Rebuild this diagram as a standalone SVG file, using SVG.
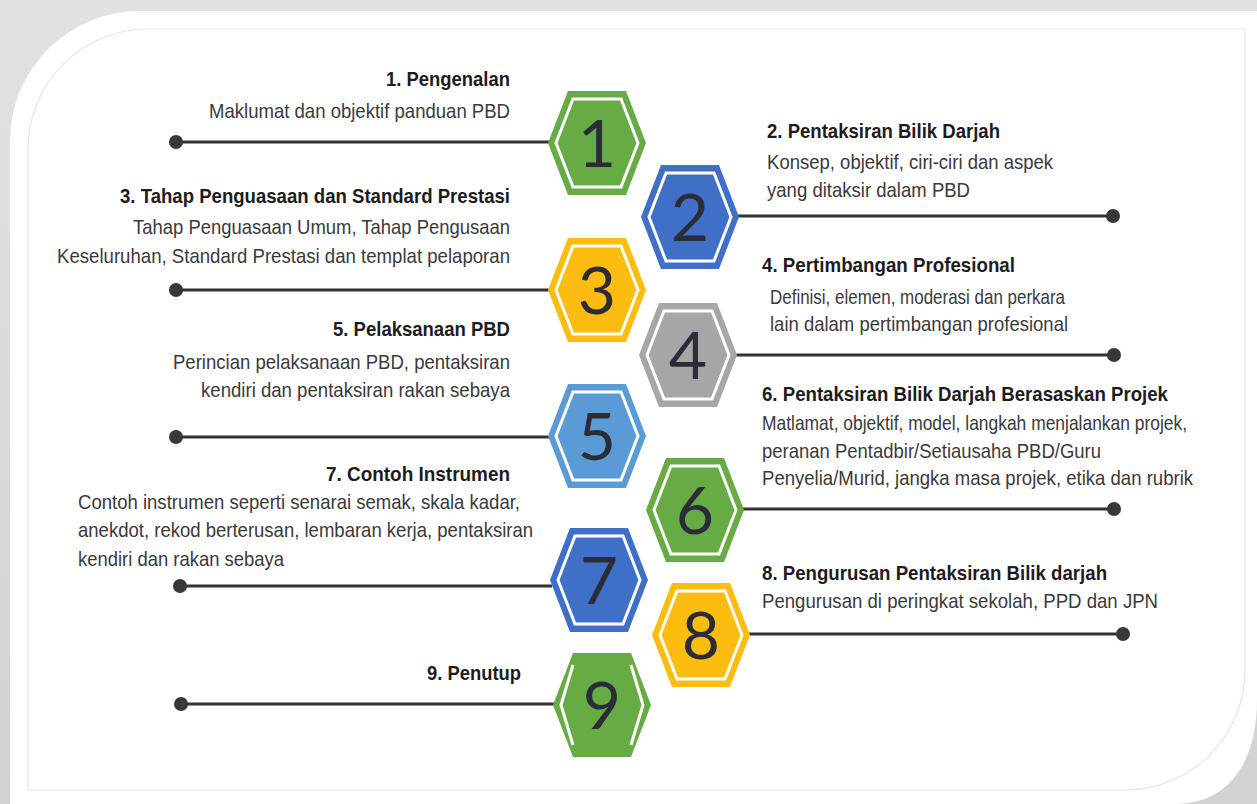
<svg xmlns="http://www.w3.org/2000/svg" width="1257" height="804" viewBox="0 0 1257 804">
<style>
.t{font-family:"Liberation Sans",Arial,sans-serif;font-size:21px;font-weight:bold;fill:#1c1c1c}
.d{font-family:"Liberation Sans",Arial,sans-serif;font-size:21px;fill:#3a3a3a}
.n{font-family:Lato,"Open Sans",sans-serif;font-weight:400;font-size:66px;fill:#2a2d38;text-anchor:middle}
.ln{stroke:#333;stroke-width:3;fill:none}
.dot{fill:#383838}
.in{fill:none;stroke:#fff;stroke-width:3}
</style>
<defs>
<linearGradient id="bg" x1="0" y1="0" x2="0" y2="1">
<stop offset="0" stop-color="#e2e2e2"/><stop offset="1" stop-color="#d2d2d2"/>
</linearGradient>
<polygon id="ho" points="-49,0 -29,-52 29,-52 49,0 29,52 -29,52"/>
<polygon id="hi" points="-41,0 -24,-44 24,-44 41,0 24,44 -24,44"/>
</defs>
<rect x="0" y="0" width="1257" height="804" fill="url(#bg)"/>
<path d="M10,141 A130,130 0 0 1 140,11 L1257,11 L1257,700 C1257,760 1230,804 1175,804 L10,804 Z" fill="#fff"/>
<path d="M28,149 A120,120 0 0 1 148,29 L1245,29 L1245,670 A120,120 0 0 1 1125,790 L28,790 Z" fill="none" stroke="#e6e6e6" stroke-width="1.2"/>

<g id="connectors">
<line class="ln" x1="176" y1="142" x2="550" y2="142"/><circle class="dot" cx="176" cy="142" r="7"/>
<line class="ln" x1="737" y1="216" x2="1113" y2="216"/><circle class="dot" cx="1113" cy="216" r="7"/>
<line class="ln" x1="176" y1="290" x2="550" y2="290"/><circle class="dot" cx="176" cy="290" r="7"/>
<line class="ln" x1="735" y1="355" x2="1114" y2="355"/><circle class="dot" cx="1114" cy="355" r="7"/>
<line class="ln" x1="176" y1="437" x2="550" y2="437"/><circle class="dot" cx="176" cy="437" r="7"/>
<line class="ln" x1="741" y1="509" x2="1114" y2="509"/><circle class="dot" cx="1114" cy="509" r="7"/>
<line class="ln" x1="180" y1="586" x2="552" y2="586"/><circle class="dot" cx="180" cy="586" r="7"/>
<line class="ln" x1="748" y1="634" x2="1123" y2="634"/><circle class="dot" cx="1123" cy="634" r="7"/>
<line class="ln" x1="181" y1="704" x2="555" y2="704"/><circle class="dot" cx="181" cy="704" r="7"/>
</g>

<g id="node1">
<use href="#ho" x="597" y="143" fill="#67ab45"/><use href="#hi" x="597" y="143" class="in"/>
<text class="n" x="597" y="167">1</text>
<text class="t" transform="scale(0.85,1)" x="454.1" y="86" textLength="145.9" lengthAdjust="spacingAndGlyphs">1. Pengenalan</text>
<text class="d" transform="scale(0.85,1)" x="245.9" y="118" textLength="354.1" lengthAdjust="spacingAndGlyphs">Maklumat dan objektif panduan PBD</text>
</g>
<g id="node2">
<use href="#ho" x="690" y="217" fill="#3f6fc6"/><use href="#hi" x="690" y="217" class="in"/>
<text class="n" x="690" y="241">2</text>
<text class="t" transform="scale(0.85,1)" x="902.4" y="138" textLength="274.1" lengthAdjust="spacingAndGlyphs">2. Pentaksiran Bilik Darjah</text>
<text class="d" transform="scale(0.85,1)" x="902.4" y="169" textLength="336.5" lengthAdjust="spacingAndGlyphs">Konsep, objektif, ciri-ciri dan aspek</text>
<text class="d" transform="scale(0.85,1)" x="902.4" y="197" textLength="238.8" lengthAdjust="spacingAndGlyphs">yang ditaksir dalam PBD</text>
</g>
<g id="node3">
<use href="#ho" x="597" y="290" fill="#fdbd10"/><use href="#hi" x="597" y="290" class="in"/>
<text class="n" x="597" y="314">3</text>
<text class="t" transform="scale(0.85,1)" x="141.2" y="203" textLength="458.8" lengthAdjust="spacingAndGlyphs">3. Tahap Penguasaan dan Standard Prestasi</text>
<text class="d" transform="scale(0.85,1)" x="156.5" y="234" textLength="443.5" lengthAdjust="spacingAndGlyphs">Tahap Penguasaan Umum, Tahap Pengusaan</text>
<text class="d" transform="scale(0.85,1)" x="67.1" y="263" textLength="532.9" lengthAdjust="spacingAndGlyphs">Keseluruhan, Standard Prestasi dan templat pelaporan</text>
</g>
<g id="node4">
<use href="#ho" x="688" y="355" fill="#a6a6a6"/><use href="#hi" x="688" y="355" class="in"/>
<text class="n" x="688" y="379">4</text>
<text class="t" transform="scale(0.85,1)" x="896.5" y="272" textLength="297.6" lengthAdjust="spacingAndGlyphs">4. Pertimbangan Profesional</text>
<text class="d" transform="scale(0.85,1)" x="905.9" y="304" textLength="347.1" lengthAdjust="spacingAndGlyphs">Definisi, elemen, moderasi dan perkara</text>
<text class="d" transform="scale(0.85,1)" x="905.9" y="331" textLength="350.6" lengthAdjust="spacingAndGlyphs">lain dalam pertimbangan profesional</text>
</g>
<g id="node5">
<use href="#ho" x="597" y="436" fill="#5b9bd5"/><use href="#hi" x="597" y="436" class="in"/>
<text class="n" x="597" y="460">5</text>
<text class="t" transform="scale(0.85,1)" x="391.8" y="336" textLength="208.2" lengthAdjust="spacingAndGlyphs">5. Pelaksanaan PBD</text>
<text class="d" transform="scale(0.85,1)" x="203.5" y="369" textLength="396.5" lengthAdjust="spacingAndGlyphs">Perincian pelaksanaan PBD, pentaksiran</text>
<text class="d" transform="scale(0.85,1)" x="236.5" y="397" textLength="363.5" lengthAdjust="spacingAndGlyphs">kendiri dan pentaksiran rakan sebaya</text>
</g>
<g id="node6">
<use href="#ho" x="695" y="510" fill="#67ab45"/><use href="#hi" x="695" y="510" class="in"/>
<text class="n" x="695" y="534">6</text>
<text class="t" transform="scale(0.85,1)" x="896.5" y="401" textLength="477.6" lengthAdjust="spacingAndGlyphs">6. Pentaksiran Bilik Darjah Berasaskan Projek</text>
<text class="d" transform="scale(0.85,1)" x="896.5" y="430" textLength="500" lengthAdjust="spacingAndGlyphs">Matlamat, objektif, model, langkah menjalankan projek,</text>
<text class="d" transform="scale(0.85,1)" x="896.5" y="458" textLength="398.8" lengthAdjust="spacingAndGlyphs">peranan Pentadbir/Setiausaha PBD/Guru</text>
<text class="d" transform="scale(0.85,1)" x="896.5" y="485" textLength="507.1" lengthAdjust="spacingAndGlyphs">Penyelia/Murid, jangka masa projek, etika dan rubrik</text>
</g>
<g id="node7">
<use href="#ho" x="599" y="580" fill="#3f6fc6"/><use href="#hi" x="599" y="580" class="in"/>
<text class="n" x="599" y="604">7</text>
<text class="t" transform="scale(0.85,1)" x="383.5" y="481" textLength="216.5" lengthAdjust="spacingAndGlyphs">7. Contoh Instrumen</text>
<text class="d" transform="scale(0.85,1)" x="91.8" y="509" textLength="520" lengthAdjust="spacingAndGlyphs">Contoh instrumen seperti senarai semak, skala kadar,</text>
<text class="d" transform="scale(0.85,1)" x="91.8" y="537" textLength="535.3" lengthAdjust="spacingAndGlyphs">anekdot, rekod berterusan, lembaran kerja, pentaksiran</text>
<text class="d" transform="scale(0.85,1)" x="91.8" y="566" textLength="242.4" lengthAdjust="spacingAndGlyphs">kendiri dan rakan sebaya</text>
</g>
<g id="node8">
<use href="#ho" x="701" y="635" fill="#fdbd10"/><use href="#hi" x="701" y="635" class="in"/>
<text class="n" x="701" y="659">8</text>
<text class="t" transform="scale(0.85,1)" x="896.5" y="580" textLength="405.9" lengthAdjust="spacingAndGlyphs">8. Pengurusan Pentaksiran Bilik darjah</text>
<text class="d" transform="scale(0.85,1)" x="896.5" y="608" textLength="465.9" lengthAdjust="spacingAndGlyphs">Pengurusan di peringkat sekolah, PPD dan JPN</text>
</g>
<g id="node9">
<use href="#ho" x="602" y="705" fill="#67ab45"/>
<path d="M573,665 L561,705 L573,745 M631,665 L643,705 L631,745" class="in"/>
<text class="n" x="602" y="729">9</text>
<text class="t" transform="scale(0.85,1)" x="502.4" y="680" textLength="110.6" lengthAdjust="spacingAndGlyphs">9. Penutup</text>
</g>
</svg>
